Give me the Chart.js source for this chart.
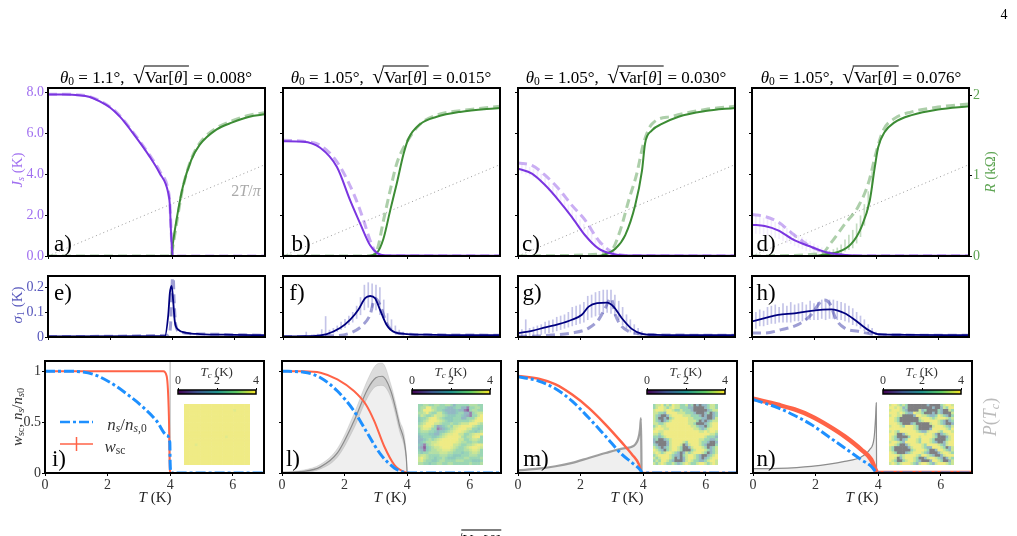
<!DOCTYPE html>
<html>
<head>
<meta charset="utf-8">
<title>Superfluid stiffness and resistance panels</title>
<script src="https://cdn.jsdelivr.net/npm/chart.js@4/dist/chart.umd.js"></script>
<style>
  html, body { margin: 0; padding: 0; background: #fff; }
  #page { position: relative; width: 1017px; height: 536px; overflow: hidden; background: #fff;
          font-family: "Liberation Serif", serif; }
  canvas { position: absolute; }
  .label { position: absolute; white-space: nowrap; line-height: 1; transform: translate(-50%, -50%); }
  .label sub { font-size: .68em; line-height: 0; vertical-align: -0.25em; }
  .rad { font-size: 1.25em; line-height: 0; }
  .over { border-top: 1px solid #000; padding: 1px 1px 0 1px; margin-left: -1px; }
  svg { position: absolute; }
</style>
</head>
<body>
<div id="page"></div>
<script>
/* ---- stiffness J_s (K) and resistance R (kOhm) against T ---- */
const jsTA = [0, 0.5, 1, 1.35, 1.67, 2, 2.32, 2.74, 3.28, 3.6, 3.88, 3.93, 3.97, 4.02, 7];
const jsA = [7.88, 7.88, 7.85, 7.76, 7.55, 7.25, 6.8, 6, 4.85, 4.05, 3.07, 2.5, 1.1, 0, 0];
const jsDashA = [7.9, 7.9, 7.86, 7.78, 7.58, 7.28, 6.84, 6.05, 4.92, 4.15, 3.2, 2.6, 1.3, 0, 0];
const rTA = [0, 3.98, 4.03, 4.2, 4.35, 4.62, 4.89, 5.43, 5.95, 6.5, 7];
const rA = [0, 0, 0.16, 0.57, 0.86, 1.19, 1.38, 1.57, 1.66, 1.73, 1.76];
const rDashA = [0, 0, 0.12, 0.53, 0.85, 1.2, 1.4, 1.59, 1.68, 1.75, 1.78];

const jsTB = [0, 0.65, 1.2, 1.74, 2.17, 2.49, 2.81, 3.03, 3.3, 7];
const jsB = [5.6, 5.58, 5.28, 4.34, 2.7, 1.58, 0.52, 0.15, 0.03, 0.01];
const jsDashTB = [0, 0.65, 1.2, 1.74, 2.28, 2.6, 2.81, 3.03, 3.3, 7];
const jsDashB = [5.65, 5.6, 5.4, 4.6, 3.04, 1.74, 0.76, 0.1, 0.01, 0.01];
const rTB = [0, 2.7, 3.03, 3.24, 3.46, 3.67, 3.89, 4.05, 4.43, 4.96, 5.71, 7];
const rB = [0, 0, 0.04, 0.215, 0.57, 0.9, 1.27, 1.46, 1.64, 1.73, 1.79, 1.84];
const rDashTB = [0, 2.8, 3.03, 3.24, 3.46, 3.67, 4, 4.43, 4.96, 6.04, 7];
const rDashB = [0, 0, 0.07, 0.44, 0.82, 1.15, 1.42, 1.64, 1.75, 1.82, 1.86];

const jsTC = [0, 0.45, 0.88, 1.31, 1.74, 2.17, 2.6, 3.03, 3.46, 7];
const jsC = [4.26, 4.02, 3.45, 2.72, 1.9, 1, 0.36, 0.11, 0.03, 0.01];
const jsDashC = [4.54, 4.42, 3.93, 3.28, 2.47, 1.74, 0.76, 0.2, 0.03, 0.01];
const rTC = [0, 2.49, 2.81, 3.14, 3.46, 3.78, 4, 4.1, 4.32, 4.64, 5.18, 6.04, 7];
const rC = [0, 0, 0.02, 0.09, 0.26, 0.63, 1.06, 1.4, 1.56, 1.64, 1.73, 1.8, 1.84];
const rDashTC = [0, 2.81, 3.03, 3.3, 3.57, 3.83, 4.05, 4.32, 4.96, 6.04, 7];
const rDashC = [0, 0.03, 0.07, 0.32, 0.69, 1.02, 1.4, 1.64, 1.735, 1.82, 1.86];

const jsTD = [0, 0.41, 0.84, 1.38, 1.92, 2.45, 3, 3.53, 7];
const jsD = [1.53, 1.46, 1.25, 0.76, 0.44, 0.16, 0.05, 0.01, 0.01];
const jsDashD = [2.03, 1.93, 1.66, 1, 0.44, 0.15, 0.03, 0.01, 0.01];
const rTD = [0, 1.92, 2.35, 2.78, 3.2, 3.53, 3.8, 3.96, 4.07, 4.28, 4.6, 5.15, 6, 7];
const rD = [0, 0, 0.02, 0.05, 0.15, 0.36, 0.69, 1.1, 1.35, 1.54, 1.66, 1.75, 1.82, 1.86];
const rDashTD = [0, 2.24, 2.56, 3, 3.42, 3.75, 4.02, 4.23, 4.6, 5.15, 6, 7];
const rDashD = [0, 0.03, 0.17, 0.4, 0.61, 0.9, 1.31, 1.56, 1.71, 1.79, 1.85, 1.89];

const bkT = [0, 7];
const bkJ = [0, 4.46];

/* ---- error bar samples, shared T grid ---- */
const errT = [0, 0.125, 0.25, 0.375, 0.5, 0.625, 0.75, 0.875, 1, 1.125, 1.25, 1.375, 1.5, 1.625, 1.75, 1.875, 2, 2.125, 2.25, 2.375, 2.5, 2.625, 2.75, 2.875, 3, 3.125, 3.25, 3.375, 3.5, 3.625, 3.75, 3.875, 4, 4.125, 4.25, 4.375, 4.5];
const jsHiC = [4.45, 4.44, 4.4, 4.33, 4.25, 4.15, 4, 3.8, 3.6, 3.4, 3.2, 3, 2.75, 2.5, 2.25, 2, 1.78, 1.55, 1.3, 1.1, 0.88, 0.68, 0.5, 0.38, 0.26, 0.17, 0.1];
const jsLoC = [4.05, 4.04, 4, 3.93, 3.85, 3.75, 3.6, 3.4, 3.2, 3, 2.8, 2.6, 2.35, 2.1, 1.85, 1.65, 1.42, 1.25, 1, 0.8, 0.62, 0.42, 0.3, 0.22, 0.14, 0.07, 0.05];
const jsHiD = [1.95, 1.95, 1.9, 1.85, 1.8, 1.75, 1.65, 1.55, 1.45, 1.35, 1.2, 1.1, 1, 0.9, 0.8, 0.7, 0.6, 0.5, 0.4, 0.32, 0.26, 0.2, 0.14, 0.1, 0.06, 0.04, 0.02];
const jsLoD = [1.1, 1.1, 1.08, 1.05, 1, 0.95, 0.9, 0.85, 0.75, 0.65, 0.6, 0.5, 0.42, 0.35, 0.26, 0.22, 0.18, 0.14, 0.1, 0.06, 0.04, 0.02, 0.01, 0.01, 0, 0, 0];
const rHiD = [0.06, 0.08, 0.1, 0.14, 0.2, 0.26, 0.32, 0.4, 0.5, 0.64, 0.8, 1.05];
const rLoD = [0, 0.01, 0.02, 0.03, 0.06, 0.08, 0.1, 0.16, 0.24, 0.38, 0.58, 0.85];
const sigHiF = [0, 0, 0, 0, 0, 0, 0.02, 0.006, 0.008, 0.012, 0.03, 0.083, 0.028, 0.035, 0.045, 0.06, 0.072, 0.085, 0.1, 0.125, 0.16, 0.21, 0.22, 0.215, 0.21, 0.2, 0.15, 0.095, 0.07, 0.045, 0.028, 0.02, 0.016, 0.012, 0.01, 0.01, 0.009];
const sigLoF = [0, 0, 0, 0, 0, 0, 0, 0, 0.002, 0.003, 0.005, 0.006, 0.01, 0.016, 0.022, 0.03, 0.038, 0.05, 0.06, 0.075, 0.09, 0.11, 0.12, 0.12, 0.11, 0.09, 0.07, 0.05, 0.03, 0.022, 0.016, 0.012, 0.01, 0.009, 0.008, 0.008, 0.008];
const sigHiG = [0.065, 0.03, 0.07, 0.035, 0.04, 0.045, 0.05, 0.06, 0.065, 0.07, 0.08, 0.085, 0.09, 0.1, 0.12, 0.125, 0.13, 0.14, 0.165, 0.17, 0.18, 0.185, 0.19, 0.19, 0.19, 0.17, 0.145, 0.12, 0.09, 0.07, 0.05, 0.035, 0.022, 0.012, 0.01, 0.009, 0.009];
const sigLoG = [0, 0.002, 0.003, 0.004, 0.005, 0.008, 0.01, 0.014, 0.018, 0.02, 0.025, 0.03, 0.035, 0.04, 0.045, 0.05, 0.055, 0.06, 0.07, 0.08, 0.085, 0.09, 0.095, 0.1, 0.095, 0.085, 0.07, 0.05, 0.035, 0.02, 0.012, 0.01, 0.009, 0.008, 0.008, 0.008, 0.008];
const sigHiH = [0.09, 0.1, 0.11, 0.105, 0.12, 0.125, 0.13, 0.12, 0.135, 0.125, 0.14, 0.13, 0.135, 0.14, 0.13, 0.145, 0.135, 0.14, 0.15, 0.14, 0.15, 0.15, 0.145, 0.14, 0.135, 0.125, 0.115, 0.1, 0.085, 0.07, 0.05, 0.035, 0.02, 0.012, 0.01, 0.009, 0.009];
const sigLoH = [0.03, 0.035, 0.045, 0.045, 0.05, 0.055, 0.055, 0.06, 0.06, 0.06, 0.06, 0.065, 0.065, 0.065, 0.07, 0.07, 0.07, 0.07, 0.075, 0.07, 0.075, 0.075, 0.07, 0.07, 0.065, 0.06, 0.05, 0.045, 0.035, 0.025, 0.015, 0.011, 0.009, 0.008, 0.008, 0.008, 0.008];

/* ---- sigma_1 (K) against T ---- */
const sigTE = [0, 3.77, 3.88, 3.93, 3.99, 4.04, 4.09, 4.2, 4.47, 4.9, 5.97, 7];
const sigE = [0.002, 0.003, 0.09, 0.177, 0.207, 0.143, 0.063, 0.03, 0.017, 0.012, 0.009, 0.007];
const sigDashTE = [0, 3.88, 3.95, 4, 4.03, 4.07, 4.12, 4.25, 5, 7];
const sigDashE = [0.002, 0.007, 0.04, 0.2, 0.27, 0.14, 0.05, 0.02, 0.012, 0.007];
const sigTF = [0, 0.77, 1.41, 1.84, 2.17, 2.43, 2.65, 2.81, 2.97, 3.13, 3.34, 3.61, 3.99, 4.84, 7];
const sigF = [0.002, 0.003, 0.012, 0.036, 0.07, 0.11, 0.157, 0.166, 0.157, 0.11, 0.05, 0.019, 0.012, 0.009, 0.007];
const sigDashTF = [0, 1.63, 2.17, 2.59, 2.81, 2.97, 3.13, 3.34, 3.66, 4.84, 7];
const sigDashF = [0.002, 0.005, 0.016, 0.05, 0.09, 0.157, 0.13, 0.056, 0.016, 0.009, 0.007];
const sigTG = [0, 0.45, 0.88, 1.31, 1.74, 2.06, 2.28, 2.55, 2.87, 3.08, 3.35, 3.67, 4, 4.43, 7];
const sigG = [0.016, 0.025, 0.039, 0.052, 0.07, 0.09, 0.123, 0.137, 0.139, 0.123, 0.076, 0.033, 0.013, 0.009, 0.007];
const sigDashTG = [0, 0.67, 1.2, 1.74, 2.28, 2.6, 2.81, 3, 3.14, 3.3, 3.57, 3.89, 4.43, 7];
const sigDashG = [0.003, 0.004, 0.009, 0.016, 0.036, 0.07, 0.116, 0.157, 0.09, 0.05, 0.023, 0.013, 0.009, 0.007];
const sigTH = [0, 0.41, 0.84, 1.37, 1.91, 2.56, 2.99, 3.31, 3.74, 4.06, 4.92, 7];
const sigH = [0.063, 0.076, 0.09, 0.096, 0.106, 0.112, 0.096, 0.07, 0.029, 0.012, 0.009, 0.007];
const sigDashTH = [0, 0.41, 0.95, 1.48, 1.91, 2.13, 2.32, 2.5, 2.72, 2.99, 3.42, 3.85, 4.17, 7];
const sigDashH = [0.016, 0.016, 0.03, 0.05, 0.09, 0.13, 0.15, 0.137, 0.07, 0.036, 0.023, 0.012, 0.009, 0.007];

/* ---- superfluid fractions and P(T_c) against T ---- */
const nsTI = [0, 0.7, 1, 1.54, 2.08, 2.6, 3.14, 3.57, 3.89, 3.99, 4, 4.03, 7];
const nsI = [1, 1, 0.998, 0.97, 0.89, 0.78, 0.645, 0.51, 0.37, 0.3, 0.1, 0, 0];
const wsTI = [0, 3.6, 3.78, 3.89, 3.96, 3.99, 4.03, 7];
const wsI = [1, 1, 1, 0.95, 0.56, 0.03, 0, 0];
const nsTL = [0, 0.7, 1.23, 1.77, 2.3, 2.73, 3.16, 3.59, 3.91, 4.1, 7];
const nsL = [1, 0.99, 0.936, 0.805, 0.61, 0.39, 0.18, 0.05, 0.007, 0, 0];
const wsTL = [0, 0.7, 1.23, 1.77, 2.3, 2.68, 2.95, 3.27, 3.59, 3.91, 4.1, 7];
const wsL = [1, 1, 0.985, 0.92, 0.805, 0.673, 0.51, 0.26, 0.08, 0.01, 0, 0];
const nsTM = [0, 0.66, 1.2, 1.73, 2.26, 2.8, 3.33, 3.65, 3.92, 3.97, 7];
const nsM = [0.946, 0.903, 0.828, 0.706, 0.542, 0.36, 0.18, 0.1, 0.026, 0, 0];
const wsTM = [0, 0.66, 1.2, 1.73, 2.26, 2.8, 3.33, 3.65, 3.87, 3.94, 3.97, 7];
const wsM = [0.952, 0.926, 0.87, 0.77, 0.64, 0.476, 0.296, 0.18, 0.082, 0.007, 0, 0];
const nsTN = [0, 0.8, 1.33, 1.86, 2.4, 2.93, 3.46, 3.78, 3.94, 3.98, 7];
const nsN = [0.722, 0.64, 0.565, 0.476, 0.36, 0.246, 0.13, 0.066, 0.007, 0, 0];
const wsTN = [0, 0.8, 1.33, 1.86, 2.4, 2.93, 3.46, 3.78, 3.94, 3.98, 7];
const wsN = [0.73, 0.67, 0.624, 0.558, 0.466, 0.36, 0.23, 0.13, 0.016, 0, 0];

const pTI = [4, 4.001];
const pI = [1.1, 0];
const pTL = [0, 0.7, 1.23, 1.77, 2.3, 2.73, 3, 3.2, 3.48, 3.75, 3.97, 4];
const pL = [0.006, 0.016, 0.06, 0.197, 0.51, 0.82, 0.935, 0.95, 0.805, 0.476, 0.164, 0];
const pHiL = [0.01, 0.03, 0.085, 0.24, 0.58, 0.91, 1.06, 1.08, 0.87, 0.53, 0.2, 0];
const pLoL = [0.002, 0.006, 0.04, 0.155, 0.44, 0.74, 0.85, 0.86, 0.74, 0.42, 0.13, 0];
const pTM = [0, 0.66, 1.2, 1.73, 2.26, 2.8, 3.33, 3.71, 3.85, 3.9, 3.93, 3.95];
const pM = [0.026, 0.043, 0.066, 0.1, 0.148, 0.197, 0.24, 0.27, 0.345, 0.43, 0.54, 0];
const pTN = [0, 0.8, 1.86, 2.93, 3.46, 3.73, 3.87, 3.92, 3.94, 3.95];
const pN = [0.043, 0.046, 0.066, 0.115, 0.158, 0.23, 0.345, 0.558, 0.69, 0];

/* ---- local T_c maps: digit = tenths of the colour scale, dot = no superconductivity ---- */
const tcMapI = [
  "999999999999999999999999", "999999999999999999999999", "999999999999999999899999",
  "999999999999999999999999", "999999999999999999999999", "999999999999999999999999",
  "999999999999999999999999", "999999999999999999999999", "999999999999999999999999",
  "999999999999999999999999", "999999999999999999999999", "999999999999999999999999",
  "999999999999999899999999", "999999999999999999999999", "999999999999999999999999",
  "999989999999999999999999", "999999999999999999999999", "999999999999999999999999",
  "999999999999999999999999", "999999999999999999999999", "999999999999999999999999",
  "999999999999999999999999", "999999999999999999999999"];
const tcMapL = [
  "556655665566535555566655", "566996655543345533155665", "569997655433334331056655",
  "667965577543334553315677", "576556877654445543215579", "455689976544455533555799",
  "456799987654455555567999", "567999776555655677799976", "679997523456577899997655",
  "578875512345678999775545", "566655434456789987655456", "455544335678899775567889",
  "345554456789999865668995", "334565678999999775567765", "345667789999998766556655",
  "431567889999977655667898", "320456778999876556789987", "431456677888765556678875",
  "545566667776655545567765", "677655556665544455566655", "797655455654445556655556",
  "786554456655556665554445", "665545566556655555565556"];
const tcMapM = [
  "577957597755735.3.335775", "579975797755533....35775", "799979975575553.....3577",
  "7755399997775553...35.35", "753..3799997775553.3..35", "75..3.57999997755533..37",
  "753.3579999997775.3.3577", "7755799999999775...35799", "5797799999999977533.5799",
  "799977999999999775357999", "997799999999999997797997", "775799999999999999999775",
  "553579999999999999975553", "35..35799999999997755335", "3....3799997599997553..3",
  "53...379997.37999753...5", "753.3579975..3799975.357", "9753.579975...5799975357",
  "7975799753.375799975.357", "5799997533.5799753..3579", "75799975.3.3799753.35799",
  "57599753...3797553357997", "757975575357975579975797"];
const tcMapN = [
  "7997575.......3....57997", "9979735.........3..37599", "7999753....735....53..75",
  "9997975339775...3.53...7", "79977....3997753359753.5", "9975.......7999757999757",
  "9975.......5799999753.35", "99975...35.....799753..3", "79997599975.....79997537",
  "99999999975....399999759", "797599999975337999759997", "997..3799999979973.35799",
  "975....59997999975...379", "9753.359997599975....579", "799753999975999753..3799",
  "9975..379999759999753799", "75.....37999753399975.37", "75......5799975..3997537",
  "975...357999753...379975", "99975799997599753..37999", "997.3799975..3799753.375",
  "975..5799753...39975..37", "797579997537997537999757"];

const tcPalette = ['#8d5f9a', '#9a80ae', '#9aa6bd', '#93b8c4', '#8fcabc', '#9bd6b4', '#b3dfa5', '#cbe696', '#e0ea8c', '#efeb85'];
const noTcColor = '#7f7f82';
const viridisStops = ['#440154', '#3b528b', '#21918c', '#5ec962', '#fde725'];

const xTicks = [0, 2, 4, 6];

/* ---- colours ---- */
const PURPLE = '#7a35e0', PURPLE_SOFT = 'rgba(122,53,224,.4)', PURPLE_BAR = 'rgba(122,53,224,.09)';
const GREEN = '#3c8c34', GREEN_SOFT = 'rgba(60,140,52,.42)', GREEN_BAR = 'rgba(60,140,52,.3)';
const NAVY = '#00007f', NAVY_SOFT = 'rgba(40,40,160,.45)', NAVY_BAR = 'rgba(60,60,180,.3)';
const BLUE = '#1e90ff', TOMATO = '#ff6347', GREY = '#8c8c8c';
const FONT = 'Liberation Serif';

Chart.defaults.font.family = FONT;
Chart.defaults.animation = false;

const page = document.getElementById('page');

const zip = (xs, ys) => xs.map((x, i) => ({ x, y: ys[i] }));

// floating bars used as error bars
const errBars = (xs, hi, lo, color, order) => ({
  type: 'bar',
  data: xs.slice(0, hi.length).map((x, i) => ({ x, y: [lo[i], hi[i]] })),
  backgroundColor: color,
  barThickness: 1,
  grouped: false,
  order,
});

const curve = (xs, ys, color, width, order, extra) => Object.assign({
  type: 'line',
  data: zip(xs, ys),
  borderColor: color,
  borderWidth: width,
  pointRadius: 0,
  cubicInterpolationMode: 'monotone',
  fill: false,
  order,
}, extra);

const DASHED = { borderDash: [9, 5] };
const DASHDOT = { borderDash: [10, 3, 3, 3] };

// black box round the plot area
const framePlugin = {
  id: 'frame',
  afterDraw(chart, args, opts) {
    const { ctx, chartArea: a } = chart;
    ctx.save();
    ctx.strokeStyle = '#000';
    ctx.lineWidth = opts.width || 2;
    ctx.strokeRect(a.left, a.top, a.right - a.left, a.bottom - a.top);
    ctx.restore();
  },
};

const MARGIN = { left: 40, right: 30, top: 12, bottom: 22 };

/**
 * One framed panel: canvas placed so that its plot area sits at x, y, w, h.
 */
function panel(rect, datasets, yOpts, showX, showY, yRight) {
  const canvas = document.createElement('canvas');
  const width = MARGIN.left + rect.w + MARGIN.right;
  const height = MARGIN.top + rect.h + MARGIN.bottom;
  canvas.width = width;
  canvas.height = height;
  canvas.style.left = (rect.x - MARGIN.left) + 'px';
  canvas.style.top = (rect.y - MARGIN.top) + 'px';
  page.appendChild(canvas);

  const scales = {
    x: {
      type: 'linear', min: 0, max: 7, offset: false,
      afterBuildTicks: (s) => { s.ticks = xTicks.map((value) => ({ value })); },
      afterFit: (s) => { s.height = MARGIN.bottom; },
      grid: { offset: false, drawOnChartArea: false, tickLength: 3, color: '#000' },
      border: { display: false },
      ticks: { display: showX, maxRotation: 0, autoSkip: false, padding: 1, color: '#333', font: { size: 14 } },
    },
    y: {
      type: 'linear', min: 0, max: yOpts.max,
      afterFit: (s) => { s.width = MARGIN.left; },
      grid: { drawOnChartArea: false, tickLength: 3, color: '#000' },
      border: { display: false },
      ticks: {
        display: showY, stepSize: yOpts.step, includeBounds: false, padding: 1,
        color: yOpts.color, font: { size: 14 }, callback: yOpts.format,
      },
    },
  };
  if (yOpts.rMax) {
    scales.yR = {
      type: 'linear', position: 'right', min: 0, max: yOpts.rMax, display: !!yRight,
      grid: { drawOnChartArea: false, tickLength: 3, color: '#000' },
      border: { display: false },
      ticks: { stepSize: 1, includeBounds: false, padding: 1, color: '#5da452', font: { size: 14 } },
    };
    if (yRight) scales.yR.afterFit = (s) => { s.width = MARGIN.right; };
  }
  return new Chart(canvas, {
    type: 'line',
    data: { datasets },
    options: {
      responsive: false,
      layout: { padding: { top: MARGIN.top, right: yRight ? 0 : MARGIN.right } },
      plugins: { legend: { display: false }, tooltip: { enabled: false }, frame: { width: 2 } },
      scales,
    },
    plugins: [framePlugin],
  });
}

// T_c colour bar with its own 0..4 axis
function colorbar(x, y, w) {
  const canvas = document.createElement('canvas');
  const pad = 10, topH = 16, h = 4;
  canvas.width = w + 2 * pad;
  canvas.height = topH + h + 2;
  canvas.style.left = (x - pad) + 'px';
  canvas.style.top = (y - topH) + 'px';
  page.appendChild(canvas);
  new Chart(canvas, {
    type: 'bar',
    data: {
      labels: ['Tc'],
      datasets: [{
        data: [[0, 4]],
        barPercentage: 1,
        categoryPercentage: 1,
        backgroundColor: (c) => {
          const a = c.chart.chartArea;
          if (!a) return viridisStops[2];
          const g = c.chart.ctx.createLinearGradient(a.left, 0, a.right, 0);
          viridisStops.forEach((col, i) => g.addColorStop(i / (viridisStops.length - 1), col));
          return g;
        },
      }],
    },
    options: {
      responsive: false,
      indexAxis: 'y',
      layout: { padding: { left: pad, right: pad, bottom: 2 } },
      plugins: { legend: { display: false }, tooltip: { enabled: false }, frame: { width: 1.5 } },
      scales: {
        x: {
          type: 'linear', position: 'top', min: 0, max: 4,
          afterFit: (s) => { s.height = topH; },
          grid: { drawOnChartArea: false, tickLength: 2, color: '#000' },
          border: { display: false },
          ticks: { stepSize: 2, padding: 0, color: '#333', font: { size: 12 } },
        },
        y: { display: false },
      },
    },
    plugins: [framePlugin],
  });
}

// T_c map, one square point per cell
function tcMap(rows, x, y, w, h) {
  const canvas = document.createElement('canvas');
  canvas.width = w;
  canvas.height = h;
  canvas.style.left = x + 'px';
  canvas.style.top = y + 'px';
  page.appendChild(canvas);
  const cells = [];
  const colors = [];
  rows.forEach((row, r) => {
    [...row].forEach((ch, c) => {
      cells.push({ x: c + 0.5, y: r + 0.5 });
      colors.push(ch === '.' ? noTcColor : tcPalette[+ch]);
    });
  });
  const nCols = rows[0].length;
  new Chart(canvas, {
    type: 'scatter',
    data: {
      datasets: [{
        data: cells,
        pointStyle: 'rect',
        pointRadius: (w / nCols) / Math.SQRT2 + 0.15,
        pointBorderWidth: 0,
        borderWidth: 0,
        pointBackgroundColor: colors,
      }],
    },
    options: {
      responsive: false,
      layout: { padding: 0 },
      plugins: { legend: { display: false }, tooltip: { enabled: false } },
      scales: {
        x: { display: false, min: 0, max: nCols },
        y: { display: false, min: 0, max: rows.length, reverse: true },
      },
    },
  });
}

function text(html, x, y, size, color, rotate) {
  const el = document.createElement('div');
  el.className = 'label';
  el.innerHTML = html;
  el.style.left = x + 'px';
  el.style.top = y + 'px';
  el.style.fontSize = size + 'px';
  el.style.color = color || '#000';
  if (rotate) el.style.transform = 'translate(-50%, -50%) rotate(-90deg)';
  page.appendChild(el);
}

/* ---- top row ---- */
const topX = [48, 283, 518, 752];
const jsAxis = { max: 8.2, step: 2, color: '#a06ff0', format: (v) => v.toFixed(1), rMax: 2.087 };
const bkLine = () => curve(bkT, bkJ, '#999', 1, 9, { borderDash: [1, 3], cubicInterpolationMode: 'default', tension: 0 });
const R = { yAxisID: 'yR' };
const rDash = Object.assign({}, R, DASHED);

panel({ x: topX[0], y: 88, w: 217, h: 168 }, [
  curve(jsTA, jsA, PURPLE, 2, 1),
  curve(rTA, rA, GREEN, 2, 2, R),
  curve(jsTA, jsDashA, PURPLE_SOFT, 3, 3, DASHED),
  curve(rTA, rDashA, GREEN_SOFT, 3, 4, rDash),
  bkLine(),
], jsAxis, false, true);

panel({ x: topX[1], y: 88, w: 217, h: 168 }, [
  curve(jsTB, jsB, PURPLE, 2, 1),
  curve(rTB, rB, GREEN, 2, 2, R),
  curve(jsDashTB, jsDashB, PURPLE_SOFT, 3, 3, DASHED),
  curve(rDashTB, rDashB, GREEN_SOFT, 3, 4, rDash),
  bkLine(),
], jsAxis, false, false);

panel({ x: topX[2], y: 88, w: 217, h: 168 }, [
  curve(jsTC, jsC, PURPLE, 2, 1),
  curve(rTC, rC, GREEN, 2, 2, R),
  curve(jsTC, jsDashC, PURPLE_SOFT, 3, 3, DASHED),
  curve(rDashTC, rDashC, GREEN_SOFT, 3, 4, rDash),
  bkLine(),
  errBars(errT, jsHiC, jsLoC, PURPLE_BAR, 10),
], jsAxis, false, false);

panel({ x: topX[3], y: 88, w: 217, h: 168 }, [
  curve(jsTD, jsD, PURPLE, 2, 1),
  curve(rTD, rD, GREEN, 2, 2, R),
  curve(jsTD, jsDashD, PURPLE_SOFT, 3, 3, DASHED),
  curve(rDashTD, rDashD, GREEN_SOFT, 3, 4, rDash),
  bkLine(),
  errBars(errT, jsHiD, jsLoD, PURPLE_BAR, 10),
  Object.assign(errBars(errT.slice(20), rHiD, rLoD, GREEN_BAR, 10), R),
], jsAxis, false, false, true);

/* ---- middle row ---- */
const sigAxis = { max: 0.247, step: 0.1, color: '#5555bb', format: (v) => String(Number(v.toFixed(1))) };
const sigPanel = (i, datasets) => panel({ x: topX[i], y: 276, w: 217, h: 61 }, datasets, sigAxis, false, i === 0);

sigPanel(0, [
  curve(sigTE, sigE, NAVY, 1.8, 1),
  curve(sigDashTE, sigDashE, NAVY_SOFT, 3, 2, DASHED),
]);
sigPanel(1, [
  curve(sigTF, sigF, NAVY, 1.8, 1),
  curve(sigDashTF, sigDashF, NAVY_SOFT, 3, 2, DASHED),
  errBars(errT, sigHiF, sigLoF, NAVY_BAR, 3),
]);
sigPanel(2, [
  curve(sigTG, sigG, NAVY, 1.8, 1),
  curve(sigDashTG, sigDashG, NAVY_SOFT, 3, 2, DASHED),
  errBars(errT, sigHiG, sigLoG, NAVY_BAR, 3),
]);
sigPanel(3, [
  curve(sigTH, sigH, NAVY, 1.8, 1),
  curve(sigDashTH, sigDashH, NAVY_SOFT, 3, 2, DASHED),
  errBars(errT, sigHiH, sigLoH, NAVY_BAR, 3),
]);

/* ---- bottom row ---- */
const botX = [45, 282, 518, 753];
const fracAxis = { max: 1.1, step: 0.5, color: '#333', format: (v) => String(Number(v.toFixed(1))) };
const botPanel = (i, datasets) => panel({ x: botX[i], y: 361, w: 219, h: 112 }, datasets, fracAxis, true, i === 0);
const pFill = { fill: 'origin', backgroundColor: '#efefef' };

botPanel(0, [
  curve(nsTI, nsI, BLUE, 3, 1, DASHDOT),
  curve(wsTI, wsI, TOMATO, 2, 2),
  curve(pTI, pI, '#ccc', 1.5, 3, { cubicInterpolationMode: 'default', tension: 0 }),
]);
botPanel(1, [
  curve(nsTL, nsL, BLUE, 3, 1, DASHDOT),
  curve(wsTL, wsL, TOMATO, 2, 2),
  curve(pTL, pL, GREY, 1.2, 3),
  curve(pTL, pHiL, 'rgba(140,140,140,.2)', 1, 4, { fill: '+1', backgroundColor: 'rgba(130,130,130,.28)' }),
  curve(pTL, pLoL, 'rgba(140,140,140,.2)', 1, 5),
  curve(pTL, pL, 'rgba(0,0,0,0)', 0, 6, pFill),
]);
botPanel(2, [
  curve(nsTM, nsM, BLUE, 3, 1, DASHDOT),
  curve(wsTM, wsM, TOMATO, 2.5, 2),
  curve(pTM, pM, 'rgba(120,120,120,.7)', 2.2, 3, pFill),
]);
botPanel(3, [
  curve(nsTN, nsN, BLUE, 3, 1, DASHDOT),
  curve(wsTN, wsN, TOMATO, 4.5, 2),
  curve(pTN, pN, '#8c8c8c', 1.2, 3, pFill),
]);

/* ---- colour bars and T_c maps ---- */
[
  { x: 177.7, map: tcMapI, mx: 180, mw: 74 },
  { x: 411.7, map: tcMapL, mx: 414, mw: 73 },
  { x: 646.7, map: tcMapM, mx: 649, mw: 73 },
  { x: 882.7, map: tcMapN, mx: 885, mw: 73 },
].forEach((ins) => {
  colorbar(ins.x, 390, 78);
  tcMap(ins.map, ins.mx, 400, ins.mw, 69);
  text('<i>T</i><sub><i>c</i></sub> (K)', ins.x + 39, 371, 13, '#333');
});

/* ---- titles ---- */
const titleMid = [156, 391, 626, 861];
const thetaVals = ['1.1', '1.05', '1.05', '1.05'];
const varVals = ['0.008', '0.015', '0.030', '0.076'];
titleMid.forEach((x, i) => {
  text(`<i>θ</i><sub>0</sub> = ${thetaVals[i]}°, &nbsp;<span class="rad">√</span><span class="over">Var[<i>θ</i>]</span> = ${varVals[i]}°`, x, 77, 17);
});

/* ---- panel letters ---- */
const letters = [
  ['a)', 63, 243], ['b)', 301, 243], ['c)', 531, 243], ['d)', 766, 243],
  ['e)', 63, 292], ['f)', 297, 292], ['g)', 532, 292], ['h)', 766, 292],
  ['i)', 59, 458], ['l)', 293, 458], ['m)', 536, 458], ['n)', 766, 458],
];
letters.forEach(([s, x, y]) => text(s, x, y, 23));

/* ---- axis titles and annotations ---- */
text('<i>J</i><sub><i>s</i></sub> (K)', 17, 170, 15, '#a06ff0', true);
text('<i>R</i> (kΩ)', 990, 172, 15, '#5da452', true);
text('<i>σ</i><sub>1</sub> (K)', 17, 305, 15, '#5555bb', true);
text('<i>w</i><sub>sc</sub>, <i>n</i><sub><i>s</i></sub>/<i>n</i><sub><i>s</i>0</sub>', 17, 417, 15, '#333', true);
text('<i>P</i>(<i>T</i><sub><i>c</i></sub>)', 990, 417, 18, '#bbb', true);
text('2<i>T</i>/<i>π</i>', 246, 191, 16, '#aaa');
[155, 390, 627, 862].forEach((x) => text('<i>T</i> (K)', x, 497, 15, '#222'));

/* ---- legend of panel i ---- */
const legendSvg = document.createElementNS('http://www.w3.org/2000/svg', 'svg');
legendSvg.setAttribute('width', 40);
legendSvg.setAttribute('height', 36);
legendSvg.style.left = '58px';
legendSvg.style.top = '418px';
legendSvg.innerHTML =
  `<line x1="2" y1="4" x2="35" y2="4" stroke="${BLUE}" stroke-width="2.5" stroke-dasharray="10 3 3 3"/>` +
  `<line x1="2" y1="26" x2="35" y2="26" stroke="${TOMATO}" stroke-width="1.5"/>` +
  `<line x1="18.5" y1="19" x2="18.5" y2="33" stroke="${TOMATO}" stroke-width="1.5"/>`;
page.appendChild(legendSvg);
text('<i>n</i><sub><i>s</i></sub>/<i>n</i><sub><i>s</i>,0</sub>', 127, 424, 17, '#333');
text('<i>w</i><sub>sc</sub>', 115, 446, 17, '#333');

/* ---- page furniture ---- */
text('4', 1004, 15, 14);
const cut = document.createElement('div');
cut.className = 'label';
cut.style.cssText = 'left:478px;top:540px;font-size:15px';
cut.innerHTML = '√<span class="over">Var[<i>θ</i>]</span>';
page.appendChild(cut);
</script>
</body>
</html>
